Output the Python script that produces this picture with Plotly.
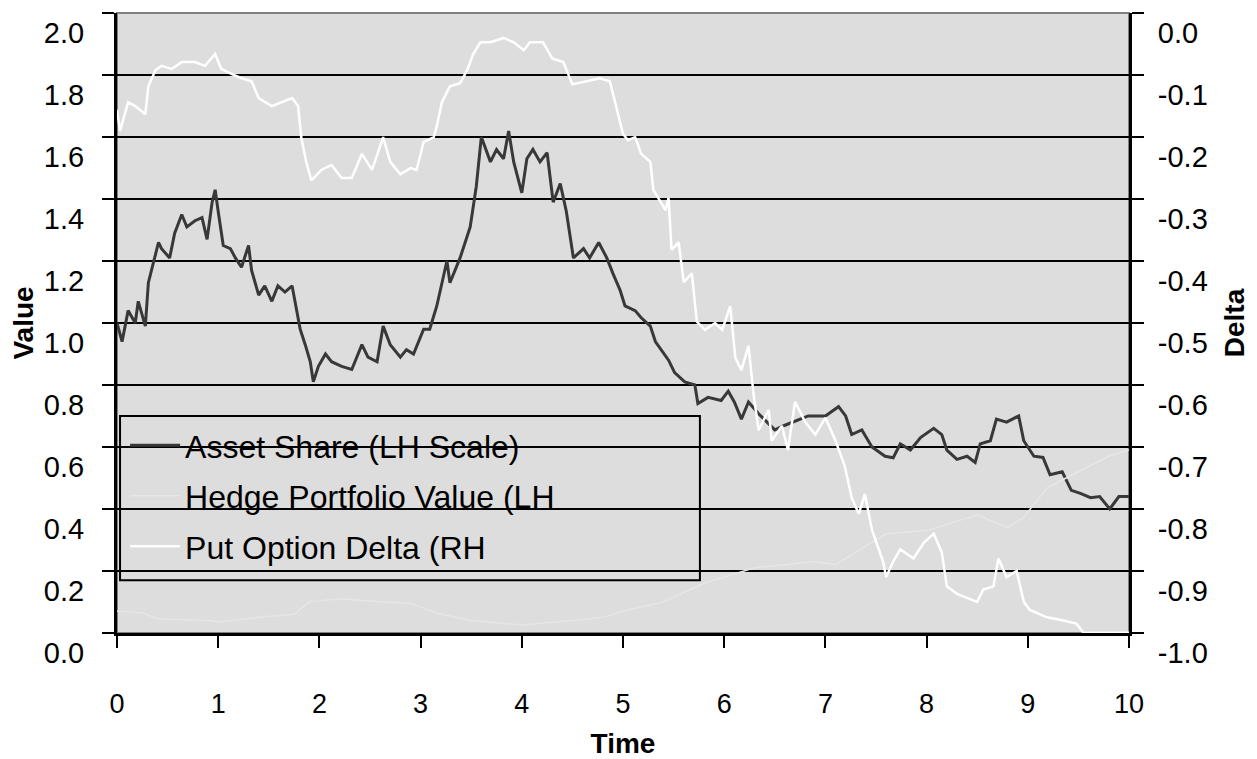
import plotly.graph_objects as go

# ---- data ----
asset_t = [0.00, 0.05, 0.11, 0.18, 0.21, 0.28, 0.31, 0.34, 0.41, 0.44, 0.52, 0.57, 0.64, 0.69, 0.77, 0.84,
           0.89, 0.94, 0.97, 1.00, 1.05, 1.12, 1.17, 1.23, 1.30, 1.33, 1.40, 1.46, 1.53, 1.59, 1.66, 1.73,
           1.77, 1.81, 1.86, 1.91, 1.94, 1.99, 2.06, 2.12, 2.22, 2.32, 2.42, 2.48, 2.57, 2.63, 2.70, 2.80,
           2.86, 2.93, 3.03, 3.09, 3.16, 3.21, 3.26, 3.29, 3.39, 3.44, 3.49, 3.55, 3.60, 3.69, 3.75, 3.82,
           3.87, 3.92, 4.00, 4.05, 4.11, 4.18, 4.25, 4.31, 4.38, 4.44, 4.51, 4.61, 4.67, 4.76, 4.84, 4.90,
           4.97, 5.02, 5.12, 5.18, 5.27, 5.32, 5.38, 5.45, 5.51, 5.61, 5.71, 5.74, 5.84, 5.97, 6.04, 6.10,
           6.17, 6.24, 6.34, 6.50, 6.60, 6.83, 7.00, 7.13, 7.20, 7.26, 7.36, 7.46, 7.59, 7.67, 7.74, 7.84,
           7.94, 8.07, 8.15, 8.20, 8.30, 8.40, 8.48, 8.53, 8.63, 8.69, 8.79, 8.91, 8.96, 9.06, 9.15, 9.22,
           9.34, 9.43, 9.52, 9.62, 9.71, 9.81, 9.90, 10.00]
asset_v = [1.00, 0.94, 1.04, 1.00, 1.07, 0.99, 1.13, 1.17, 1.26, 1.24, 1.21, 1.29, 1.35, 1.31, 1.33, 1.34,
           1.27, 1.39, 1.43, 1.36, 1.25, 1.24, 1.21, 1.18, 1.25, 1.17, 1.09, 1.12, 1.07, 1.12, 1.10, 1.12,
           1.05, 0.98, 0.93, 0.875, 0.81, 0.86, 0.90, 0.875, 0.86, 0.85, 0.93, 0.89, 0.875, 0.99, 0.93, 0.89,
           0.914, 0.90, 0.98, 0.98, 1.055, 1.13, 1.20, 1.13, 1.21, 1.26, 1.31, 1.44, 1.60, 1.52, 1.56, 1.53,
           1.62, 1.52, 1.42, 1.53, 1.56, 1.52, 1.55, 1.39, 1.45, 1.36, 1.21, 1.24, 1.21, 1.26, 1.21, 1.16,
           1.107, 1.055, 1.04, 1.017, 0.99, 0.94, 0.914, 0.88, 0.84, 0.81, 0.80, 0.74, 0.76, 0.75, 0.78, 0.745,
           0.69, 0.745, 0.707, 0.655, 0.67, 0.70, 0.70, 0.73, 0.70, 0.64, 0.655, 0.60, 0.57, 0.565, 0.61, 0.59,
           0.63, 0.66, 0.64, 0.59, 0.56, 0.57, 0.55, 0.61, 0.62, 0.69, 0.68, 0.70, 0.62, 0.57, 0.566, 0.51,
           0.52, 0.46, 0.45, 0.436, 0.44, 0.40, 0.44, 0.44]

hedge_t = [0.00, 0.25, 0.40, 0.90, 1.00, 1.40, 1.75, 1.90, 2.20, 2.60, 2.90, 3.20, 3.50, 4.00, 4.50, 4.80,
           5.00, 5.40, 5.80, 6.10, 6.30, 6.60, 6.90, 7.10, 7.30, 7.60, 8.00, 8.30, 8.50, 8.80, 8.95, 9.10,
           9.20, 9.50, 9.80, 10.00]
hedge_v = [0.07, 0.065, 0.045, 0.04, 0.035, 0.05, 0.06, 0.10, 0.11, 0.10, 0.095, 0.06, 0.04, 0.025, 0.04, 0.05,
           0.07, 0.10, 0.16, 0.19, 0.21, 0.22, 0.23, 0.22, 0.26, 0.32, 0.33, 0.36, 0.38, 0.34, 0.37, 0.43,
           0.47, 0.52, 0.57, 0.59]

delta_t = [0.00, 0.03, 0.11, 0.18, 0.28, 0.31, 0.38, 0.44, 0.54, 0.64, 0.77, 0.87, 0.97, 1.03, 1.13, 1.23,
           1.33, 1.40, 1.53, 1.63, 1.73, 1.79, 1.82, 1.87, 1.92, 2.02, 2.12, 2.22, 2.32, 2.42, 2.52, 2.63,
           2.70, 2.80, 2.90, 2.96, 3.03, 3.13, 3.16, 3.21, 3.29, 3.39, 3.46, 3.52, 3.59, 3.69, 3.82, 3.92,
           4.02, 4.08, 4.21, 4.30, 4.41, 4.50, 4.64, 4.77, 4.87, 4.94, 5.00, 5.05, 5.12, 5.18, 5.27, 5.30,
           5.35, 5.42, 5.45, 5.48, 5.55, 5.60, 5.68, 5.73, 5.81, 5.91, 5.98, 6.06, 6.11, 6.17, 6.24, 6.29,
           6.34, 6.44, 6.47, 6.57, 6.63, 6.70, 6.80, 6.90, 7.00, 7.10, 7.19, 7.26, 7.33, 7.39, 7.46, 7.52,
           7.57, 7.60, 7.67, 7.74, 7.87, 7.97, 8.07, 8.15, 8.20, 8.30, 8.43, 8.50, 8.56, 8.66, 8.71, 8.79,
           8.89, 8.96, 9.02, 9.19, 9.35, 9.48, 9.55, 10.00]
delta_v = [-0.156, -0.19, -0.144, -0.15, -0.163, -0.118, -0.092, -0.085, -0.09, -0.079, -0.079, -0.085, -0.066,
           -0.09, -0.098, -0.105, -0.11, -0.137, -0.15, -0.144, -0.137, -0.15, -0.20, -0.24, -0.27, -0.253,
           -0.245, -0.266, -0.266, -0.227, -0.253, -0.20, -0.24, -0.26, -0.25, -0.253, -0.208, -0.20, -0.182,
           -0.144, -0.118, -0.113, -0.092, -0.066, -0.047, -0.047, -0.040, -0.047, -0.06, -0.047, -0.047,
           -0.073, -0.079, -0.115, -0.11, -0.105, -0.11, -0.156, -0.195, -0.205, -0.20, -0.227, -0.24, -0.285,
           -0.298, -0.318, -0.298, -0.382, -0.37, -0.434, -0.42, -0.498, -0.511, -0.50, -0.511, -0.473, -0.556,
           -0.576, -0.537, -0.615, -0.673, -0.64, -0.69, -0.666, -0.705, -0.627, -0.66, -0.68, -0.653, -0.69,
           -0.73, -0.782, -0.808, -0.776, -0.834, -0.86, -0.885, -0.91, -0.885, -0.865, -0.88, -0.855, -0.84,
           -0.87, -0.925, -0.937, -0.945, -0.95, -0.93, -0.925, -0.88, -0.91, -0.90, -0.95, -0.963, -0.975,
           -0.98, -0.985, -1.0, -1.0]

x_ticks = [0, 1, 2, 3, 4, 5, 6, 7, 8, 9, 10]
left_ticks = [0.0, 0.2, 0.4, 0.6, 0.8, 1.0, 1.2, 1.4, 1.6, 1.8, 2.0]
left_labels = ["0.0", "0.2", "0.4", "0.6", "0.8", "1.0", "1.2", "1.4", "1.6", "1.8", "2.0"]
right_ticks = [-1.0, -0.9, -0.8, -0.7, -0.6, -0.5, -0.4, -0.3, -0.2, -0.1, 0.0]
right_labels = ["-1.0", "-0.9", "-0.8", "-0.7", "-0.6", "-0.5", "-0.4", "-0.3", "-0.2", "-0.1", "0.0"]

FONT = "Liberation Sans, Arial, sans-serif"
TITLE_FONT = "Liberation Sans Narrow, Arial Narrow, Liberation Sans, Arial, sans-serif"

fig = go.Figure()
fig.add_trace(go.Scatter(x=asset_t, y=asset_v, mode="lines", name="Asset Share (LH Scale)",
                         legendgroup="a", line=dict(color="#383838", width=3)))
fig.add_trace(go.Scatter(x=hedge_t, y=hedge_v, mode="lines", name="Hedge Portfolio Value (LH",
                         legendgroup="b", line=dict(color="#e6e6e6", width=1.5)))
fig.add_trace(go.Scatter(x=delta_t, y=delta_v, mode="lines", name="Put Option Delta (RH",
                         legendgroup="c", yaxis="y2", line=dict(color="#ffffff", width=2.5)))

# page body has an 8px default margin, so the figure is shifted by 8px
fig.update_layout(
    width=1249, height=751,
    margin=dict(l=109, r=128, t=5, b=126, autoexpand=False),
    paper_bgcolor="white",
    plot_bgcolor="#dddddd",
    font=dict(family=FONT, size=24, color="black"),
    showlegend=True,
    legend=dict(x=0.008, y=0.347, xanchor="left", yanchor="top",
                bgcolor="rgba(0,0,0,0)", borderwidth=0,
                font=dict(family=FONT, size=32, color="black"),
                tracegroupgap=6, itemwidth=50),
    xaxis=dict(range=[0, 10], tickvals=x_ticks, ticks="outside", ticklen=12, tickwidth=2,
               tickcolor="black", showline=True, linecolor="black", linewidth=3,
               showgrid=False, zeroline=False, ticklabelstandoff=33, automargin=False,
               tickfont=dict(size=27),
               title=dict(text="<b>Time</b>", font=dict(family=TITLE_FONT, size=28), standoff=17)),
    yaxis=dict(range=[-0.0005, 2.0005], tickvals=left_ticks, ticktext=left_labels, ticks="outside",
               ticklen=12, tickwidth=2, tickcolor="black", showline=True, linecolor="black", linewidth=3,
               showgrid=True, gridcolor="black", gridwidth=2, zeroline=False, ticklabelstandoff=12,
               ticklabelshift=20, ticklabeloverflow="allow", automargin=False, tickfont=dict(size=29),
               title=dict(text="<b>Value</b>", font=dict(family=TITLE_FONT, size=28), standoff=8)),
    yaxis2=dict(range=[-1.00025, 0.00025], overlaying="y", side="right", tickvals=right_ticks,
                ticktext=right_labels, ticks="outside", ticklen=12, tickwidth=2, tickcolor="black",
                showline=True, linecolor="black", linewidth=3, showgrid=False, zeroline=False,
                ticklabelstandoff=8, ticklabelshift=20, ticklabeloverflow="allow", automargin=False,
                tickfont=dict(size=29),
                title=dict(text="<b>Delta</b>", font=dict(family=TITLE_FONT, size=28), standoff=18)),
)

# plot-area border (grey top edge) and legend frame
fig.add_shape(type="rect", xref="x domain", yref="y domain", x0=0, x1=1, y0=0, y1=1,
              line=dict(color="#808080", width=2), layer="below")
fig.add_shape(type="rect", xref="paper", yref="paper", x0=0.003, x1=0.576, y0=0.085, y1=0.35,
              line=dict(color="black", width=2), fillcolor="rgba(0,0,0,0)", layer="above")

fig.write_html("out.html")
